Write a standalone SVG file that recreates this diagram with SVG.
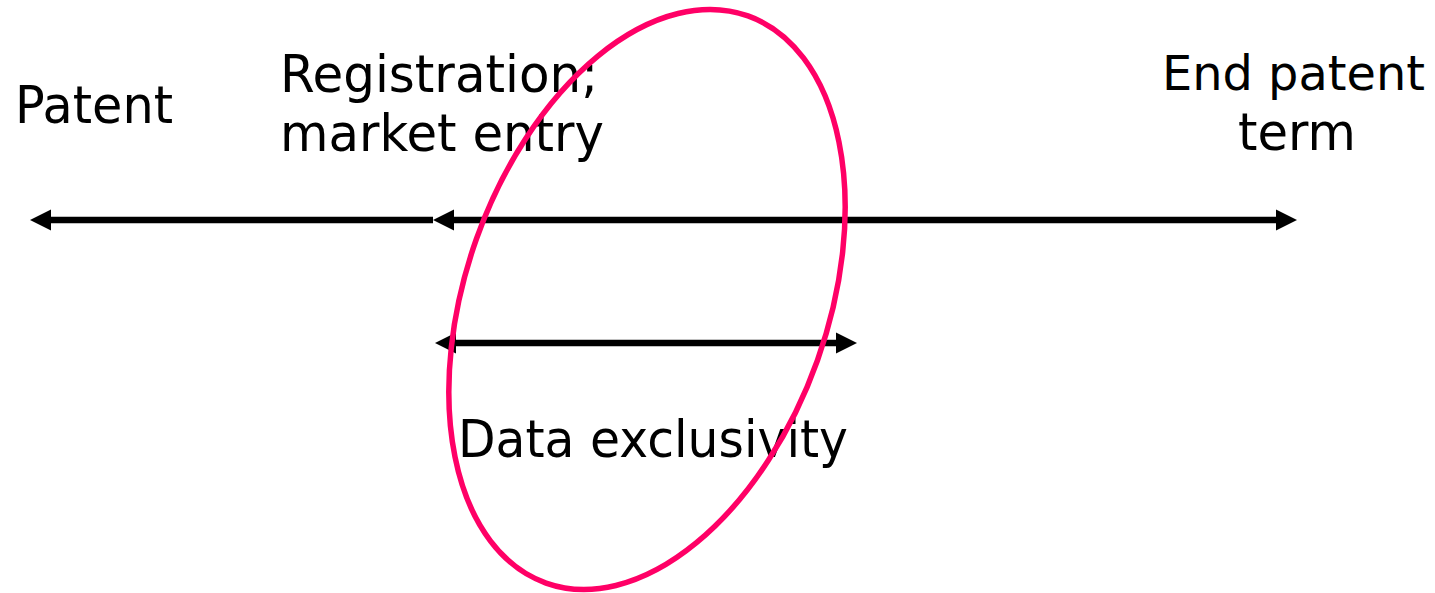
<svg xmlns="http://www.w3.org/2000/svg" width="1435" height="593" viewBox="0 0 1435 593">
  <style>
    .lbl { font-family: "DejaVu Sans", "Liberation Sans", sans-serif; font-size: 52px; fill: #000; }
    .axis { stroke: #000; stroke-width: 6.5; fill: none; }
    .ring { stroke: #FF0066; stroke-width: 5.5; fill: none; }
  </style>
  <defs>
    <marker id="head" markerUnits="userSpaceOnUse" markerWidth="23" markerHeight="22" refX="0" refY="10.5" orient="auto-start-reverse" overflow="visible">
      <path d="M0,0 L21,10.5 L0,21 Z" fill="#000"/>
    </marker>
  </defs>
  <g id="connectors">
    <line class="axis" x1="51" y1="220" x2="433" y2="220" marker-start="url(#head)"/>
    <line class="axis" x1="454" y1="220" x2="1276" y2="220" marker-start="url(#head)" marker-end="url(#head)"/>
    <line class="axis" x1="456" y1="343" x2="836" y2="343" marker-start="url(#head)" marker-end="url(#head)"/>
  </g>
  <g id="patent">
    <text class="lbl" x="15" y="123" textLength="158" lengthAdjust="spacingAndGlyphs">Patent</text>
  </g>
  <g id="registration">
    <text class="lbl" x="280" y="92" textLength="318" lengthAdjust="spacingAndGlyphs">Registration;</text>
    <text class="lbl" x="280" y="151" textLength="324" lengthAdjust="spacingAndGlyphs">market entry</text>
  </g>
  <g id="end-patent">
    <text class="lbl" x="1162" y="90" style="font-size:48px" textLength="263" lengthAdjust="spacingAndGlyphs">End patent</text>
    <text class="lbl" x="1238" y="150" textLength="118" lengthAdjust="spacingAndGlyphs">term</text>
  </g>
  <g id="data-exclusivity">
    <text class="lbl" x="458" y="457" textLength="390" lengthAdjust="spacingAndGlyphs">Data exclusivity</text>
  </g>
  <g id="highlight">
    <ellipse class="ring" cx="647" cy="299.5" rx="181" ry="301" transform="rotate(19.6 647 299.5)"/>
  </g>
</svg>
